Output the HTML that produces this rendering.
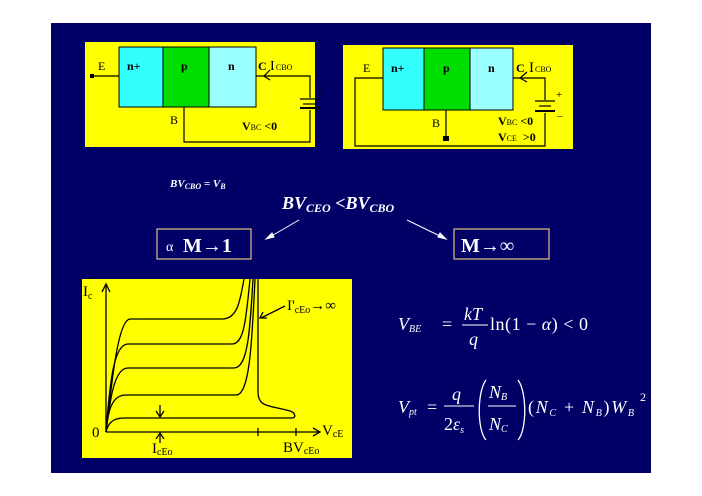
<!DOCTYPE html>
<html><head><meta charset="utf-8"><style>
body{margin:0;background:#fff;width:702px;height:496px;overflow:hidden}
svg{display:block}
text{font-family:"Liberation Serif",serif}
</style></head><body>
<svg width="702" height="496" viewBox="0 0 702 496">
<rect x="51" y="23" width="600" height="450" fill="#000066"/>
<!-- left diagram -->
<rect x="85" y="42" width="230" height="105" fill="#ffff00"/>
<rect x="119" y="47" width="44" height="60" fill="#33ffff" stroke="#000" stroke-width="1"/>
<rect x="163" y="47" width="46" height="60" fill="#00dd00" stroke="#000" stroke-width="1"/>
<rect x="209" y="47" width="47" height="60" fill="#99ffff" stroke="#000" stroke-width="1"/>
<g stroke="#000" stroke-width="1.2" fill="none">
<line x1="92" y1="76" x2="119" y2="76"/>
<polyline points="256,76 310,76 310,98"/>
<line x1="300" y1="99" x2="320" y2="99"/>
<line x1="303" y1="104" x2="317" y2="104"/>
<line x1="300" y1="108" x2="320" y2="108" stroke-width="2"/>
<polyline points="310,110 310,142 184,142 184,107"/>
<polyline points="270,70 264,76 270,80"/>
</g>
<rect x="90" y="74" width="4" height="4" fill="#000"/>
<g font-size="12" fill="#000" font-weight="bold">
<text x="98" y="70" font-weight="normal">E</text>
<text x="127" y="70">n+</text>
<text x="181" y="70">p</text>
<text x="228" y="70">n</text>
<text x="258" y="70">C</text>
<text x="270" y="70" font-size="14" font-weight="normal">I</text>
<text x="276" y="70" font-size="8" font-weight="normal">CBO</text>
<text x="170" y="124" font-weight="normal">B</text>
<text x="242" y="130">V<tspan font-size="8" font-weight="normal">BC</tspan> &lt;0</text>
<text x="318" y="94" font-size="9">I</text>
</g>
<!-- right diagram -->
<rect x="343" y="45" width="230" height="104" fill="#ffff00"/>
<rect x="383" y="48" width="41" height="62" fill="#33ffff" stroke="#000"/>
<rect x="424" y="48" width="46" height="62" fill="#00dd00" stroke="#000"/>
<rect x="470" y="48" width="43" height="62" fill="#99ffff" stroke="#000"/>
<g stroke="#000" stroke-width="1.2" fill="none">
<polyline points="513,78 545,78 545,100"/>
<line x1="535" y1="101" x2="555" y2="101"/>
<line x1="539" y1="106" x2="551" y2="106"/>
<line x1="535" y1="111" x2="555" y2="111" stroke-width="2"/>
<polyline points="545,113 545,146 355,146 355,78 383,78"/>
<line x1="446" y1="110" x2="446" y2="138"/>
<polyline points="527,72 520,78 527,82"/>
</g>
<rect x="443" y="136" width="6" height="5" fill="#000"/>
<g font-size="12" fill="#000" font-weight="bold">
<text x="363" y="72" font-weight="normal">E</text>
<text x="391" y="72">n+</text>
<text x="443" y="72">p</text>
<text x="488" y="72">n</text>
<text x="516" y="72">C</text>
<text x="529" y="72" font-size="15" font-weight="normal">I</text>
<text x="535" y="72" font-size="8" font-weight="normal">CBO</text>
<text x="432" y="127" font-weight="normal">B</text>
<text x="498" y="125">V<tspan font-size="8" font-weight="normal">BC</tspan> &lt;0</text>
<text x="498" y="141">V<tspan font-size="8" font-weight="normal">CE</tspan> &nbsp;&gt;0</text>
<text x="556" y="98" font-size="11" font-weight="normal">+</text>
<text x="557" y="119" font-size="11" font-weight="normal">–</text>
</g>
<!-- middle texts -->
<g fill="#fff" font-weight="bold" font-style="italic">
<text x="170" y="187" font-size="11">BV<tspan font-size="8" dy="2">CBO</tspan><tspan dy="-2"> = V</tspan><tspan font-size="8" dy="2">B</tspan></text>
<text x="282" y="209" font-size="18">BV<tspan font-size="12" dy="3">CEO</tspan><tspan dy="-3"> &lt;BV</tspan><tspan font-size="12" dy="3">CBO</tspan></text>
</g>
<g stroke="#fff" stroke-width="1" fill="#fff">
<line x1="299" y1="220" x2="268" y2="238"/>
<polygon points="266,239 272,233 274,237"/>
<line x1="407" y1="220" x2="444" y2="238"/>
<polygon points="446,239 438,237 440,233"/>
</g>
<rect x="157" y="229" width="94" height="30" fill="none" stroke="#e0c080" stroke-width="1.2"/>
<rect x="454" y="229" width="95" height="30" fill="none" stroke="#e0c080" stroke-width="1.2"/>
<g fill="#fff" font-weight="bold">
<text x="166" y="251" font-size="14" font-family="Liberation Sans" font-weight="normal">α</text>
<text x="183" y="252" font-size="20">M→1</text>
<text x="461" y="252" font-size="20">M→∞</text>
</g>
<!-- graph -->
<rect x="82" y="279" width="270" height="179" fill="#ffff00"/>
<g stroke="#000" stroke-width="1.3" fill="none">
<line x1="106" y1="432" x2="106" y2="284"/>
<polyline points="102,292 106,284 110,292"/>
<line x1="106" y1="432" x2="320" y2="432"/>
<polyline points="313,428 320,432 313,436"/>
<line x1="258" y1="428" x2="258" y2="436"/>
<line x1="296" y1="428" x2="296" y2="436"/>
<path d="M106,432 C112,380 118,320 130,319 L222,319 C238,319 240,300 244,279"/>
<path d="M106,432 C110,380 114,344 128,344 L232,344 C244,344 246,320 250,279"/>
<path d="M106,432 C110,400 114,368 128,368 L234,368 C248,368 250,330 253,279"/>
<path d="M106,432 C108,410 112,395 126,395 L236,395 C250,395 252,340 255,279"/>
<path d="M106,432 C108,424 112,418 124,418 L292,418 C296,418 296,413 290,411 C270,405 258,408 258,392 L258,279"/>
<line x1="160" y1="405" x2="160" y2="417"/>
<polyline points="156,411 160,417 164,411"/>
<line x1="160" y1="433" x2="160" y2="443"/>
<polyline points="156,439 160,433 164,439"/>
<line x1="285" y1="306" x2="261" y2="318"/>
<polyline points="263,312 260,318 267,318"/>
</g>
<g fill="#000" font-family="Liberation Mono" font-size="15">
<text x="83" y="296" font-family="Liberation Mono">I<tspan font-size="10" dy="3">c</tspan></text>
<text x="92" y="437">0</text>
<text x="322" y="435">V<tspan font-size="10" dy="2">cE</tspan></text>
<text x="152" y="453">I<tspan font-size="10" dy="2">cEo</tspan></text>
<text x="283" y="452">BV<tspan font-size="10" dy="2">cEo</tspan></text>
<text x="287" y="310">I'<tspan font-size="10" dy="3">cEo</tspan><tspan dy="-3">→∞</tspan></text>
</g>
<!-- equations -->
<g fill="#fff" font-size="18">
<text x="398" y="330" font-style="italic">V<tspan font-size="10" dy="2">BE</tspan></text>
<text x="442" y="330">=</text>
<text x="464" y="320" font-style="italic">kT</text>
<line x1="462" y1="325" x2="488" y2="325" stroke="#fff" stroke-width="1"/>
<text x="469" y="345" font-style="italic">q</text>
<text x="490" y="330" textLength="98">ln(1 − <tspan font-style="italic">α</tspan>) &lt; 0</text>

<text x="398" y="413" font-style="italic">V<tspan font-size="10" dy="2">pt</tspan></text>
<text x="427" y="413">=</text>
<text x="452" y="400" font-style="italic">q</text>
<line x1="444" y1="406" x2="474" y2="406" stroke="#fff" stroke-width="1"/>
<text x="444" y="430">2<tspan font-style="italic">ε</tspan><tspan font-size="10" dy="3" font-style="italic">s</tspan></text>
<path d="M486,380 C477,392 477,430 486,440" stroke="#fff" fill="none" stroke-width="1.3"/>
<text x="489" y="398" font-style="italic">N<tspan font-size="10" dy="2">B</tspan></text>
<line x1="488" y1="406" x2="516" y2="406" stroke="#fff" stroke-width="1"/>
<text x="489" y="430" font-style="italic">N<tspan font-size="10" dy="2">C</tspan></text>
<path d="M518,380 C527,392 527,430 518,440" stroke="#fff" fill="none" stroke-width="1.3"/>
<text x="528" y="413" textLength="106">(<tspan font-style="italic">N</tspan><tspan font-size="10" dy="3" font-style="italic">C</tspan><tspan dy="-3"> + </tspan><tspan font-style="italic">N</tspan><tspan font-size="10" dy="3" font-style="italic">B</tspan><tspan dy="-3">)</tspan><tspan font-style="italic">W</tspan><tspan font-size="10" dy="3" font-style="italic">B</tspan></text>
<text x="640" y="401" font-size="12">2</text>
</g>
</svg>
</body></html>
